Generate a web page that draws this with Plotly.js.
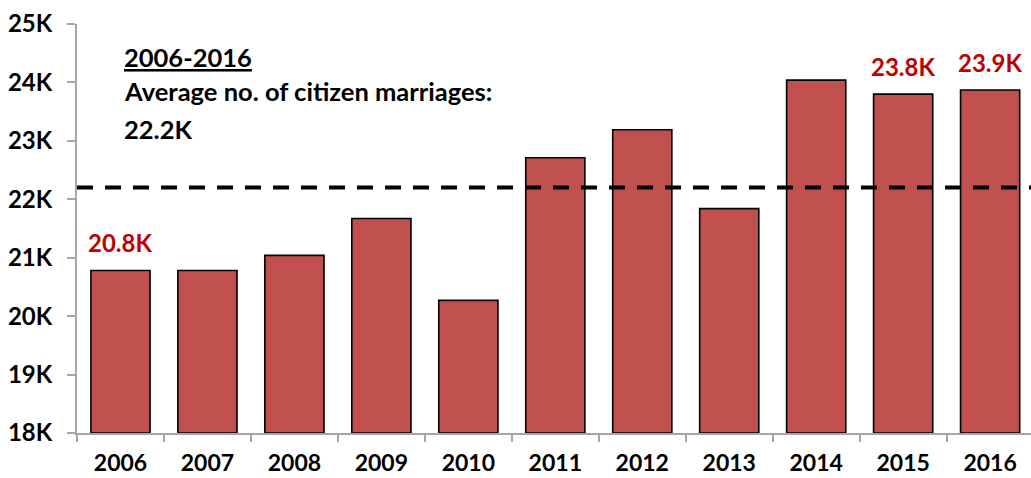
<!DOCTYPE html>
<html>
<head>
<meta charset="utf-8">
<script src="https://cdn.plot.ly/plotly-3.0.1.min.js"></script>
<style>html,body{margin:0;padding:0;background:#fff;}#chart{width:1031px;height:478px;}</style>
</head>
<body>
<div id="chart"></div>
<script>
var years = ['2006','2007','2008','2009','2010','2011','2012','2013','2014','2015','2016'];
var marriages = [20.78, 20.78, 21.04, 21.67, 20.27, 22.71, 23.19, 21.84, 24.04, 23.80, 23.87];
var averageValue = 22.2;
var labelYears = ['2006','2015','2016'];
var labelTexts = ['20.8K','23.8K','23.9K'];
var yTickVals = [18,19,20,21,22,23,24,25];
var yTickText = ['18K','19K','20K','21K','22K','23K','24K','25K'];
var noteTitle = '2006-2016';
var noteLine1 = 'Average no. of citizen marriages:';
var noteLine2 = '22.2K';

var FONT = 'Lato, "Open Sans", sans-serif';
var AXIS_MIN = 18;

var trace = {
  type: 'bar',
  x: years,
  y: marriages.map(function(v){return v - AXIS_MIN;}),
  base: AXIS_MIN,
  width: 0.68,
  marker: {color: '#C0504D', line: {color: '#000000', width: 1.6}},
  hoverinfo: 'none'
};

var annotations = labelYears.map(function(yr, i){
  var idx = years.indexOf(yr);
  return {
    x: idx, y: marriages[idx], xref: 'x', yref: 'y',
    text: '<b>' + labelTexts[i] + '</b>', showarrow: false,
    yanchor: 'middle', yshift: 28,
    font: {family: FONT, size: 24, color: '#C00000'}
  };
});
var noteFont = {family: FONT, size: 25.5, color: '#000000'};
annotations.push({xref:'paper', yref:'y', x:0.0475, y:24.44, xanchor:'left', yanchor:'middle', showarrow:false,
  text:'<b><span style="text-decoration:underline">' + noteTitle + '</span></b>', font: noteFont});
annotations.push({xref:'paper', yref:'y', x:0.0475, y:23.85, xanchor:'left', yanchor:'middle', showarrow:false,
  text:'<b>' + noteLine1 + '</b>', font: noteFont});
annotations.push({xref:'paper', yref:'y', x:0.0475, y:23.21, xanchor:'left', yanchor:'middle', showarrow:false,
  text:'<b>' + noteLine2 + '</b>', font: noteFont});

var layout = {
  width: 1031, height: 478,
  margin: {l: 77, r: 0, t: 24, b: 44.5, pad: 0},
  paper_bgcolor: '#ffffff', plot_bgcolor: '#ffffff',
  showlegend: false,
  font: {family: FONT, size: 24, color: '#000000'},
  xaxis: {
    type: 'category',
    range: [-0.5, 10.47],
    showline: true, linecolor: '#A6A6A6', linewidth: 2,
    ticks: 'outside', tickson: 'boundaries', ticklen: 7, tickcolor: '#A6A6A6', tickwidth: 2,
    showgrid: false, zeroline: false,
    ticklabelstandoff: 8,
    tickfont: {family: FONT, size: 23, color: '#000000', weight: 'bold'}
  },
  yaxis: {
    range: [18, 25],
    tickvals: yTickVals, ticktext: yTickText,
    showline: true, linecolor: '#A6A6A6', linewidth: 2,
    ticks: 'outside', ticklen: 8, tickcolor: '#A6A6A6', tickwidth: 2,
    showgrid: false, zeroline: false,
    ticklabelstandoff: 10,
    tickfont: {family: FONT, size: 24, color: '#000000', weight: 'bold'}
  },
  shapes: [
    {type: 'line', xref: 'paper', yref: 'y', x0: 0, x1: 1, y0: averageValue, y1: averageValue,
     line: {color: '#000000', width: 4, dash: '16px,12px'}}
  ],
  annotations: annotations
};

Plotly.newPlot('chart', [trace], layout, {displayModeBar: false, staticPlot: true});
</script>
</body>
</html>
